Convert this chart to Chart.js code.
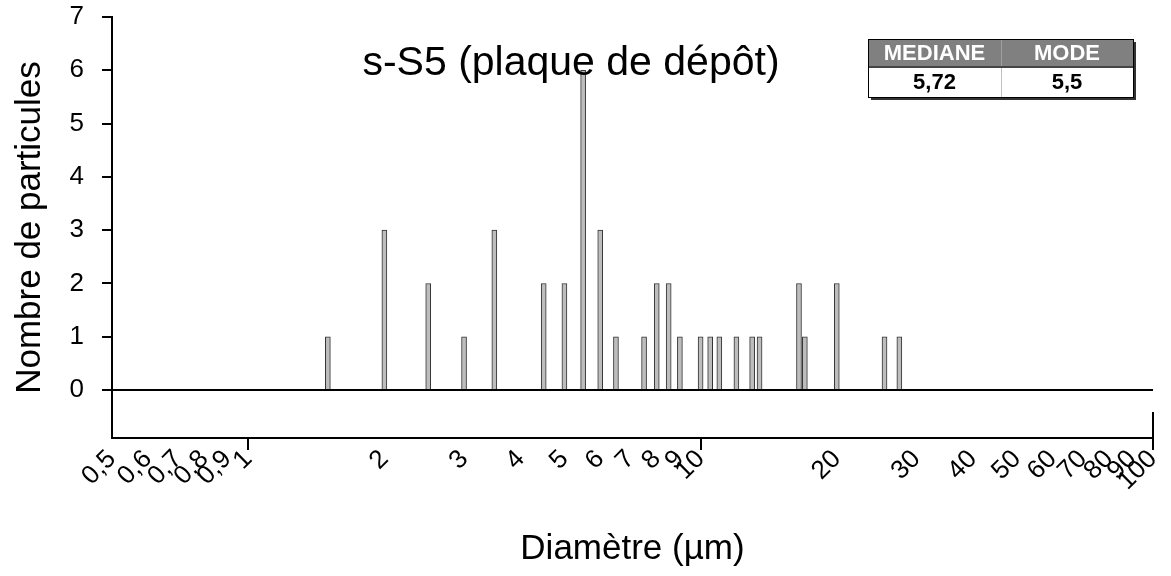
<!DOCTYPE html>
<html>
<head>
<meta charset="utf-8">
<script src="https://cdn.jsdelivr.net/npm/chart.js@4/dist/chart.umd.min.js"></script>
<style>
  html, body { margin: 0; padding: 0; background: #fff; }
</style>
</head>
<body>
<canvas id="myChart" width="1171" height="576"></canvas>
<script>
// particle diameters (µm) and counts per class
const diameters = [1.5, 2, 2.5, 3, 3.5, 4.5, 5, 5.5, 6, 6.5, 7.5, 8, 8.5, 9, 10, 10.5, 11, 12, 13, 13.5, 16.5, 17, 20, 25.5, 27.5];
const counts    = [1,   3, 2,   1, 3,   2,   2, 6,   3, 1,   1,   2, 2,   1, 1,  1,    1,  1,  1,  1,    2,    1,  2,  1,    1];

const xTickValues = [0.5, 0.6, 0.7, 0.8, 0.9, 1, 2, 3, 4, 5, 6, 7, 8, 9, 10, 20, 30, 40, 50, 60, 70, 80, 90, 100];
const xTickLabels = ['0,5', '0,6', '0,7', '0,8', '0,9', '1', '2', '3', '4', '5', '6', '7', '8', '9', '10', '20', '30', '40', '50', '60', '70', '80', '90', '100'];
const xMajorTicks = [1, 10, 100];
const yTickValues = [0, 1, 2, 3, 4, 5, 6, 7];

const chartTitle = 's-S5 (plaque de dépôt)';
const statHeaders = ['MEDIANE', 'MODE'];
const statValues = ['5,72', '5,5'];

const FONT = '"Liberation Sans", Arial, sans-serif';

// title text + stats box + right end mark
const overlay = {
  id: 'overlay',
  afterDraw(chart) {
    const c = chart.ctx;
    const x = chart.scales.x, y = chart.scales.y;
    c.save();

    // small vertical mark at the right end of the axis
    c.strokeStyle = '#000';
    c.lineWidth = 2;
    c.beginPath();
    c.moveTo(x.getPixelForValue(100), y.bottom - 26);
    c.lineTo(x.getPixelForValue(100), y.bottom + 12);
    c.stroke();

    c.fillStyle = '#000';
    c.font = '41px ' + FONT;
    c.textAlign = 'center';
    c.textBaseline = 'alphabetic';
    c.fillText(chartTitle, 571, 75);

    // stats table
    const L = 868, R = 1133, T = 39, M = 67, B = 97, mid = 1001;
    c.fillStyle = '#333';
    c.fillRect(L + 3, T + 3, R - L, B - T);
    c.fillStyle = '#808080';
    c.fillRect(L, T, R - L, M - T);
    c.fillStyle = '#fff';
    c.fillRect(L, M, R - L, B - M);
    c.strokeStyle = '#c0c0c0';
    c.lineWidth = 1;
    c.beginPath();
    c.moveTo(mid + 0.5, M);
    c.lineTo(mid + 0.5, B);
    c.stroke();
    c.strokeStyle = '#a0a0a0';
    c.beginPath();
    c.moveTo(mid + 0.5, T);
    c.lineTo(mid + 0.5, M);
    c.stroke();
    c.strokeStyle = '#444';
    c.lineWidth = 2;
    c.beginPath();
    c.moveTo(L, M);
    c.lineTo(R, M);
    c.stroke();
    c.lineWidth = 1;
    c.strokeStyle = '#000';
    c.strokeRect(L + 0.5, T + 0.5, R - L, B - T);

    c.font = 'bold 22px ' + FONT;
    c.textBaseline = 'middle';
    const cx = [(L + mid) / 2, (mid + R) / 2];
    statHeaders.forEach((h, i) => {
      c.fillStyle = '#fff';
      c.fillText(h, cx[i], (T + M) / 2 + 1);
    });
    statValues.forEach((v, i) => {
      c.fillStyle = '#000';
      c.fillText(v, cx[i], (M + B) / 2 + 1);
    });
    c.restore();
  }
};

let ctx = document.getElementById('myChart');
let myChart = new Chart(ctx, {
  type: 'bar',
  data: {
    datasets: [{
      label: 'Nombre de particules',
      data: diameters.map((d, i) => ({ x: d, y: counts[i] })),
      backgroundColor: '#bdbdbd',
      borderColor: '#333',
      borderWidth: 1,
      barThickness: 5
    }]
  },
  options: {
    responsive: false,
    animation: false,
    layout: { padding: { top: 17, right: 18, left: 0, bottom: 0 } },
    plugins: {
      legend: { display: false },
      tooltip: { enabled: false }
    },
    scales: {
      x: {
        type: 'logarithmic',
        min: 0.5,
        max: 100,
        offset: false,
        afterBuildTicks: s => { s.ticks = xTickValues.map(v => ({ value: v })); },
        afterFit: s => { s.height = 138; s.paddingRight = 0; s.paddingLeft = 0; },
        ticks: {
          autoSkip: false,
          minRotation: 45,
          maxRotation: 45,
          padding: -6,
          color: '#000',
          font: { family: FONT, size: 26 },
          callback: (v, i) => xTickLabels[i]
        },
        grid: {
          offset: false,
          drawOnChartArea: false,
          tickLength: 12,
          lineWidth: 2,
          color: c => (c.tick && xMajorTicks.includes(c.tick.value)) ? '#000' : 'rgba(0,0,0,0)'
        },
        border: { color: '#000', width: 2 },
        title: {
          display: true,
          text: 'Diamètre (µm)',
          color: '#000',
          font: { family: FONT, size: 35 },
          padding: { top: 0, bottom: 6 }
        }
      },
      y: {
        min: -0.9,
        max: 7,
        afterBuildTicks: s => { s.ticks = yTickValues.map(v => ({ value: v })); },
        afterFit: s => { s.width = 112; s.paddingTop = 0; s.paddingBottom = 0; },
        ticks: {
          padding: 18,
          color: '#000',
          font: { family: FONT, size: 26 }
        },
        grid: {
          tickLength: 10,
          lineWidth: 2,
          tickColor: '#000',
          color: c => (c.tick && c.tick.value === 0) ? '#000' : 'rgba(0,0,0,0)'
        },
        border: { color: '#000', width: 2 },
        title: {
          display: true,
          text: 'Nombre de particules',
          color: '#000',
          font: { family: FONT, size: 35 },
          padding: { top: 9, bottom: 0 }
        }
      }
    }
  },
  plugins: [overlay]
});
</script>
</body>
</html>
